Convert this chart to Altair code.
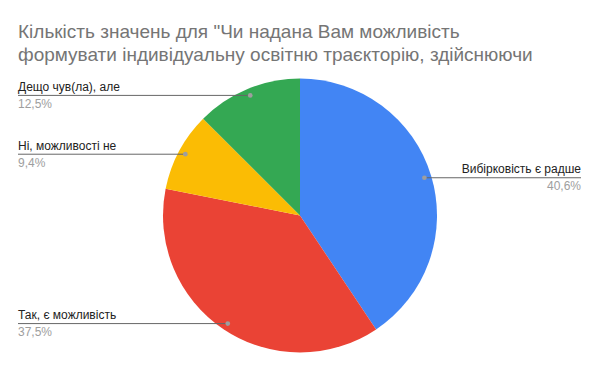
import math
import altair as alt
import pandas as pd

# ---- data ----
categories = ["Вибірковість є радше", "Так, є можливість", "Ні, можливості не", "Дещо чув(ла), але"]
counts = [13, 12, 3, 4]
pct_labels = ["40,6%", "37,5%", "9,4%", "12,5%"]
colors = ["#4285F4", "#EA4335", "#FBBC04", "#34A853"]
title_lines = ['Кількість значень для "Чи надана Вам можливість',
               'формувати індивідуальну освітню траєкторію, здійснюючи']

# ---- layout (page pixels) ----
OFF = 8
W, H = 600, 371
CX, CY, R = 300, 215.5, 137
DOT_R = 130
LEFT_X, RIGHT_X = 18, 581
FONT = "Liberation Sans"

total = sum(counts)
rows = []
cum = 0
for i, (c, n, p) in enumerate(zip(categories, counts, pct_labels)):
    mid = (cum + n / 2) / total * 2 * math.pi
    cum += n
    px = CX + DOT_R * math.sin(mid)
    py = CY - DOT_R * math.cos(mid)
    right = math.sin(mid) > 0
    rows.append(dict(cat=c, n=n, pct=p, order=i, dot_x=px, dot_y=py,
                     side="right" if right else "left",
                     x1=px if right else LEFT_X, x2=RIGHT_X if right else px,
                     tx=RIGHT_X if right else LEFT_X))
df = pd.DataFrame(rows)

tdf = pd.DataFrame({"line": title_lines,
                    "ty": [37.5 + 23 * i for i in range(len(title_lines))],
                    "tx": [LEFT_X] * len(title_lines)})

xs = alt.Scale(domain=[OFF, W - OFF], nice=False, zero=False)
ys = alt.Scale(domain=[OFF, H - OFF], reverse=True, nice=False, zero=False)

base = alt.Chart(df)

pie = base.mark_arc(outerRadius=R).encode(
    theta=alt.Theta("n:Q", stack=True),
    color=alt.Color("cat:N", scale=alt.Scale(domain=categories, range=colors), legend=None),
    order=alt.Order("order:Q"),
    x=alt.value(CX - OFF),
    y=alt.value(CY - OFF),
)

rules = base.mark_rule(color="#666666", strokeWidth=1).encode(
    x=alt.X("x1:Q", scale=xs, axis=None),
    x2="x2:Q",
    y=alt.Y("dot_y:Q", scale=ys, axis=None),
)

dots = base.mark_circle(size=22, color="#9e9e9e", opacity=1).encode(
    x=alt.X("dot_x:Q", scale=xs, axis=None),
    y=alt.Y("dot_y:Q", scale=ys, axis=None),
)

def labels(side, align):
    b = base.transform_filter(alt.datum.side == side)
    name = b.mark_text(align=align, baseline="alphabetic", dy=-4.5, fontSize=12,
                       font=FONT, color="#222222").encode(
        x=alt.X("tx:Q", scale=xs, axis=None),
        y=alt.Y("dot_y:Q", scale=ys, axis=None),
        text="cat:N",
    )
    pct = b.mark_text(align=align, baseline="alphabetic", dy=12.5, fontSize=12,
                      font=FONT, color="#9e9e9e").encode(
        x=alt.X("tx:Q", scale=xs, axis=None),
        y=alt.Y("dot_y:Q", scale=ys, axis=None),
        text="pct:N",
    )
    return name + pct

title = alt.Chart(tdf).mark_text(align="left", baseline="alphabetic", fontSize=19,
                                 font=FONT, color="#757575").encode(
    x=alt.X("tx:Q", scale=xs, axis=None),
    y=alt.Y("ty:Q", scale=ys, axis=None),
    text="line:N",
)

chart = alt.layer(pie, rules, dots, labels("left", "left"), labels("right", "right"), title).properties(
    width=W - 2 * OFF, height=H - 2 * OFF,
    autosize=alt.AutoSizeParams(type="none"),
    padding=0,
).configure_view(stroke=None)

chart.save("out.html", embed_options={"renderer": "svg", "actions": False})
